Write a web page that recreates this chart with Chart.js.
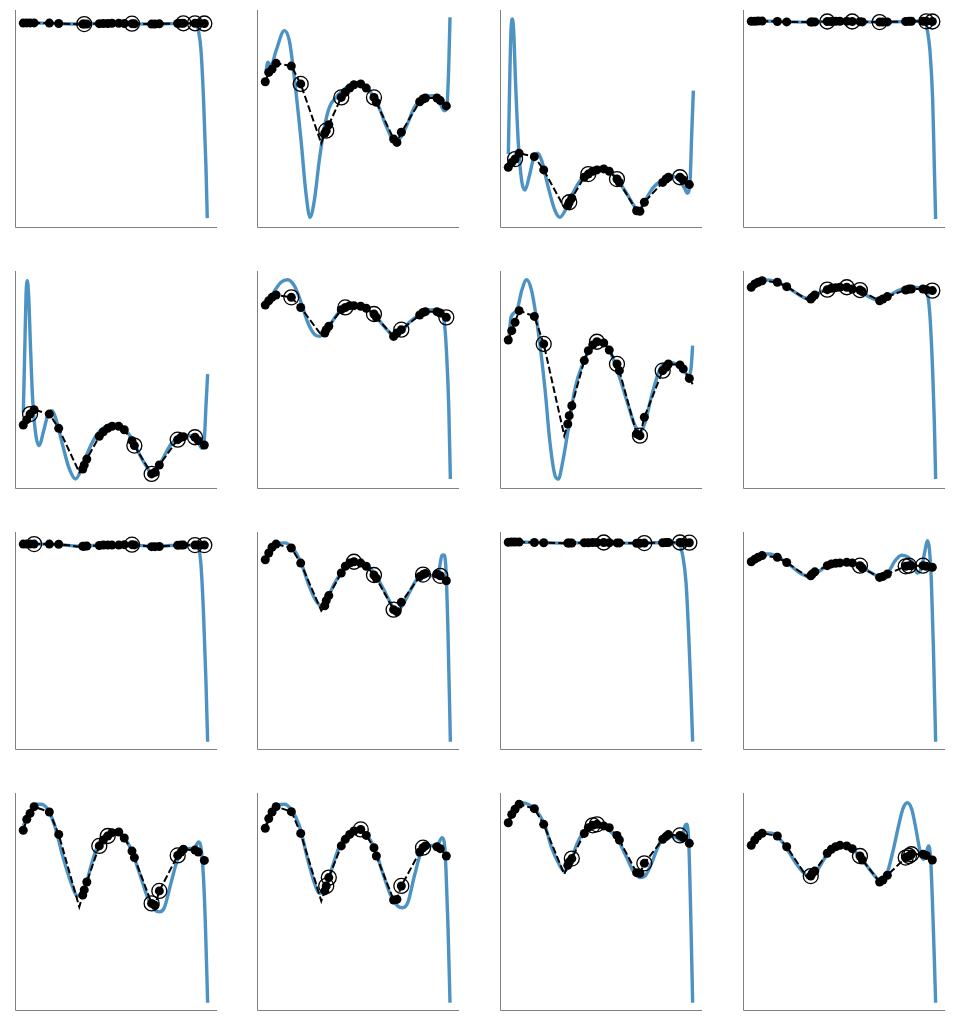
<!DOCTYPE html>
<html><head><meta charset="utf-8">
<script src="https://cdn.jsdelivr.net/npm/chart.js@4"></script>
<style>
html,body{margin:0;padding:0;background:#fff;}
#wrap{position:relative;width:954px;height:1025px;overflow:hidden;background:#fff;}
canvas{position:absolute;}
</style></head><body><div id="wrap"></div>
<script>
// common sample positions (x) of the black dots
const X = [0, 1.9, 3.7, 5.9, 14.2, 19.3, 32.4, 33.2, 34.6, 41.4, 43.6, 46.0, 48.3, 52.0, 55.0, 59.2, 60.5, 69.9, 71.7, 74.1, 84.1, 85.9, 87.2, 93.5, 95.3, 98.6];
const DIP_X = 30.5;   // extra vertex of the dashed line
const END_X = 100.4;

// ---- row 1 ----
const p11Dots = [98.4,98.5,98.5,98.5,98.4,98.2,97.9,97.9,97.9,98.1,98.2,98.2,98.3,98.3,98.2,98.1,98.0,97.9,97.9,98.0,98.2,98.3,98.3,98.3,98.3,98.2];
const p11Circled = [7,15,22,23,25];
const p11Dash = [97.8, null];
const p11CurveX = [0,10,20,30,40,50,60,70,80,88,93,94.5,95.5,96.8,98.2,99.5,100.2];
const p11CurveY = [98.5,98.4,98.1,97.9,98.2,98.3,98.1,97.9,98.1,98.3,98.2,97.5,94,84.5,59.3,25.6,0];

const p12Dots = [68.8,73.5,75.2,78.1,76.7,67.7,42.8,44.1,47.1,60.9,63.5,65.6,67.3,67.7,65.6,60.9,58.4,39.9,38.2,43.3,58.7,60.1,60.6,60.6,59.3,56.6];
const p12Circled = [5,7,9,15];
const p12Dash = [37.7, null];
const p12CurveX = [0.4,1.3,3.1,5.9,10.4,13.1,15.8,19.5,22.2,24.4,26.7,29.4,32.2,34.9,38.5,42.2,47.6,52.1,56.7,61.2,65.8,70.3,73.0,76.6,81.2,85.7,91.2,94.8,97.5,98.8,99.9,100.6];
const p12CurveY = [73.5,78.6,76.9,84.5,94.6,89.5,71.0,39.1,12.2,0.4,8.8,29.0,45.8,55.9,60.9,64.3,67.7,67.7,64.3,57.6,46.6,39.1,39.9,45.8,55.9,60.6,61.8,58.4,54.2,55.0,76.0,101.3];

const p13Dots = [25.6,28.1,29.8,32.7,31.0,24.3,6.3,8.0,10.1,20.6,22.2,23.6,24.3,24.8,23.6,19.7,18.0,3.7,3.4,8.0,18.0,19.7,20.6,20.6,19.2,16.9];
const p13Circled = [2,7,10,15,23];
const p13Dash = [5.4, null];
const p13CurveX = [0.04,0.95,1.5,2.2,2.94,4.0,5.5,7.3,9.1,11.3,13.7,16.0,18.2,21.8,25.5,28.2,30.9,34.5,39.1,44.5,50.0,54.5,59.0,63.6,68.1,70.8,74.5,79.0,83.5,89.0,93.5,96.2,97.5,99.0,99.9,100.8];
const p13CurveY = [32.3,76.1,94.6,100.5,94.6,67.7,37.4,18.9,14.1,20.6,29.8,32.7,29.0,15.5,3.7,0.4,3.7,11.3,18.9,24.3,25.6,24.3,19.7,13.8,6.8,3.7,8.8,15.5,18.9,21.1,18.9,14.7,12.5,18.9,42.5,64.3];

const p14Dots = [99.3,99.3,99.4,99.4,99.2,99.0,98.9,98.9,99.0,99.2,99.2,99.3,99.3,99.3,99.2,99.1,99.0,98.9,98.9,99.0,99.2,99.3,99.3,99.3,99.3,99.2];
const p14Circled = [9,14,17,24,25];
const p14Dash = [99.0, null];
const p14CurveX = [0,10,20,30,40,50,60,70,80,90,94.6,95.9,97.3,98.8,99.7,100.4];
const p14CurveY = [99.3,99.3,99.1,98.9,99.2,99.3,99.1,98.9,99.1,99.3,99.2,94.6,84.5,59.3,25.6,-0.5];

// ---- row 2 ----
const p21Dots = [27.3,30.0,32.8,35.0,32.8,25.6,5.1,7.1,10.1,21.6,23.9,25.6,26.6,26.6,24.9,19.4,16.9,2.6,3.4,7.1,19.9,21.1,21.4,21.1,19.4,17.2];
const p21Circled = [2,16,17,20,23];
const p21Dash = [3.4, null];
const p21CurveX = [0.04,0.95,1.5,2.2,2.94,3.85,5.1,6.9,8.75,10.9,13.3,15.7,17.8,21.5,25.1,28.4,31.4,35.1,39.6,44.1,49.6,54.1,58.7,63.2,66.8,69.6,72.3,75.9,80.5,85.0,90.4,94.9,97.3,98.6,99.5,100.4];
const p21CurveY = [33.7,70.7,92.6,100.1,92.6,69.0,40.4,21.9,16.9,23.6,32.0,34.5,30.3,16.9,5.1,0.05,4.3,13.5,21.9,26.1,27.8,26.1,21.1,12.7,6.8,3.4,4.3,10.1,17.7,21.1,21.9,19.4,15.5,20.1,37.0,53.0];

const p22Dots = [87.8,90.0,91.7,92.9,91.7,86.6,73.7,75.4,77.1,85.5,86.6,87.5,87.5,87.2,86.2,83.3,81.6,72.0,73.7,75.4,82.8,84.1,84.5,84.5,83.8,81.6];
const p22Circled = [4,10,15,19,25];
const p22Dash = [72.7, null];
const p22CurveX = [0.4,4.0,8.6,12.2,15.8,19.5,23.1,26.7,29.4,33.1,36.7,41.2,45.8,51.2,56.7,62.1,66.7,70.3,73.9,78.5,83.0,87.5,92.1,95.7,97.5,98.8,99.9,100.8];
const p22CurveY = [87.5,93.4,99.3,100.6,97.6,89.2,79.1,73.2,72.0,74.9,79.9,85.3,87.5,87.5,85.0,79.9,74.9,72.0,74.0,79.1,82.4,85.0,85.5,83.3,79.1,62.3,37.0,0.05];

const p23Dots = [70.2,74.9,79.1,85.0,82.1,68.2,27.8,32.0,37.0,59.8,64.8,67.7,69.3,68.7,65.1,58.1,54.7,22.8,21.9,31.2,54.7,56.4,58.1,57.6,55.6,50.8];
const p23Circled = [5,12,15,18,20];
const p23Dash = [21.9, 47.9];
const p23CurveX = [0.4,1.5,4.6,7.3,10.0,12.7,16.4,20.0,22.7,25.5,27.3,29.6,32.7,36.3,40.9,45.4,49.1,53.6,57.2,60.9,65.4,69.0,71.7,74.5,78.1,82.6,87.2,91.7,95.3,98.0,99.5,100.4];
const p23CurveY = [71.5,81.6,85.0,95.1,100.6,95.1,74.0,45.5,18.5,1.7,0.05,8.5,25.3,45.5,58.9,67.3,69.8,67.3,60.6,50.5,37.0,27.0,23.6,28.6,42.1,55.6,58.9,58.1,55.6,52.2,55.6,67.3];

const p24Dots = [96.8,98.5,99.3,100.1,99.3,97.1,90.9,91.7,92.9,95.6,96.3,96.6,96.8,96.8,95.9,95.4,94.6,90.0,90.9,92.1,95.4,95.9,95.9,95.9,95.6,95.1];
const p24Circled = [9,13,15,25];
const p24Dash = [90.5, null];
const p24CurveX = [0.2,5.7,13.8,21.1,28.4,32.0,37.4,44.7,52.0,59.2,64.7,70.1,75.6,81.9,88.3,93.7,95.9,97.3,98.8,99.7,100.4];
const p24CurveY = [97.6,100.6,99.6,95.9,91.7,90.9,94.2,96.8,96.8,95.1,91.7,90.0,92.9,95.9,96.8,95.9,93.4,82.4,53.9,28.6,0.05];

// ---- row 3 ----
const p31Dots = [98.9,98.9,98.9,98.9,98.9,98.8,97.8,97.8,97.9,98.2,98.4,98.4,98.4,98.4,98.6,98.6,98.5,97.6,97.6,97.7,98.3,98.4,98.4,98.4,98.4,98.4];
const p31Circled = [3,15,23,25];
const p31Dash = [97.6, null];
const p31CurveX = [0,10,20,30,40,50,60,70,80,90,95,96.8,98.2,99.5,100.4];
const p31CurveY = [98.9,98.9,98.6,97.8,98.3,98.5,98.5,97.7,98.2,98.4,98.1,88,62.8,29.2,-0.8];

const p32Dots = [91.0,94.4,97.3,98.9,96.9,89.3,67.8,70.4,72.9,84.3,87.7,89.3,90.0,89.3,87.7,83.3,81.6,65.8,64.8,69.5,82.5,83.5,84.1,83.8,82.9,80.4];
const p32Circled = [12,15,17,21,24];
const p32Dash = [65.3, null];
const p32CurveX = [0.4,3.1,6.8,10.4,14.9,19.5,24.0,27.6,30.4,34.0,37.6,42.2,46.7,51.2,55.8,60.3,64.8,68.5,71.2,73.9,77.6,82.1,86.6,91.2,94.4,96.2,97.2,98.4,99.5,100.8];
const p32CurveY = [90.2,95.3,99.1,99.5,96.9,89.4,77.6,70.4,67.8,72.0,78.8,85.5,89.4,90.0,88.0,83.0,75.4,68.7,65.3,67.0,72.9,80.5,83.3,82.9,85.0,93.1,93.4,86.3,54.4,-0.8];

const p33Dots = [99.8,99.9,99.9,99.9,99.7,99.6,99.4,99.4,99.4,99.6,99.6,99.7,99.7,99.7,99.6,99.5,99.5,99.3,99.3,99.4,99.6,99.7,99.7,99.7,99.7,99.6];
const p33Circled = [13,19,23,25];
const p33Dash = [99.3, null];
const p33CurveX = [0,10,20,30,40,50,60,70,80,88,92.6,95,96.8,98.2,99.3,100.4];
const p33CurveY = [99.8,99.8,99.6,99.4,99.6,99.6,99.5,99.3,99.6,99.7,99.2,93.1,79.6,54.4,29.1,-0.8];

const p34Dots = [90.0,91.3,92.2,93.1,92.2,89.6,82.9,83.8,84.9,88.0,88.9,89.2,89.4,89.7,89.4,88.0,86.8,82.1,82.6,83.8,87.7,88.0,88.0,88.0,87.7,87.2];
const p34Circled = [15,20,21,23];
const p34Dash = [82.5, null];
const p34CurveX = [0.2,5.7,10.2,14.7,21.1,26.5,32.0,36.5,42.0,47.4,52.9,58.3,63.7,68.3,71.0,74.6,78.3,81.9,85.5,88.6,90.4,92.8,94.6,95.9,97.0,98.1,99.2,100.4];
const p34CurveY = [90.5,93.9,93.9,92.2,88.3,84.3,82.4,84.9,88.3,89.6,89.6,88.3,85.4,82.9,82.1,84.6,90.5,93.3,92.2,88.0,84.3,87.2,95.6,100.6,96.4,79.6,45.9,-0.8];

// ---- row 4 ----
const p41Dots = [86.2,91.7,94.7,98.1,95.4,84.1,53.5,56.1,60.1,78.3,81.3,83.3,85.0,85.3,82.3,75.7,72.4,49.3,48.3,55.6,73.5,75.2,76.6,76.2,75.2,71.0];
const p41Circled = [9,11,17,19,20];
const p41Dash = [47.5, null];
const p41CurveX = [0.04,3.3,6.9,9.6,13.3,16.9,21.5,26.0,29.6,33.3,36.9,40.5,45.1,49.6,54.1,58.7,63.2,67.8,71.4,74.1,76.8,80.5,84.1,88.6,93.2,95.5,96.8,98.1,99.2,100.4];
const p41CurveY = [88.4,95.1,99.3,99.3,96.8,89.2,73.2,59.8,53.0,56.4,68.2,78.3,84.1,85.3,83.3,76.6,64.8,52.2,46.3,45.0,47.1,59.8,71.5,76.6,77.4,80.3,77.4,63.1,37.9,-0.8];

const p42Dots = [87.2,92.1,95.4,98.1,95.6,84.6,55.6,58.1,62.3,78.3,81.6,84.1,85.8,86.6,83.6,77.4,73.2,51.0,51.3,58.1,75.2,77.4,78.3,77.9,76.9,73.2];
const p42Circled = [7,8,13,19,21];
const p42Dash = [50.5, null];
const p42CurveX = [0.4,3.1,6.8,10.4,14.0,18.6,23.1,26.7,29.4,33.1,36.7,41.2,45.8,50.3,54.9,59.4,63.9,68.5,72.1,74.8,77.6,81.2,84.8,89.4,93.9,96.3,97.5,98.4,99.5,100.6];
const p42CurveY = [88.4,94.2,98.8,99.3,96.8,88.4,71.5,59.8,54.4,57.2,68.2,79.9,85.0,86.7,84.1,77.4,64.8,53.0,48.0,47.1,49.7,63.1,74.9,78.3,79.1,82.5,79.9,66.5,37.9,-0.8];

const p43Dots = [90.0,94.2,96.8,99.3,97.1,89.2,68.5,70.2,71.9,84.6,87.5,88.7,89.2,88.4,87.5,83.6,81.3,64.8,64.5,69.5,81.6,83.0,84.0,83.6,82.5,79.6];
const p43Circled = [8,11,12,19,23];
const p43Dash = [64.0, null];
const p43CurveX = [0.4,3.1,7.3,10.9,15.5,20.0,23.6,27.3,30.4,33.6,37.3,41.8,46.3,50.9,55.4,60.0,64.5,68.1,71.7,74.5,78.1,82.6,87.2,91.7,94.4,96.2,97.2,98.3,99.3,100.4];
const p43CurveY = [90.9,96.8,100.1,99.3,95.9,88.4,77.4,69.8,65.6,69.0,79.1,86.3,88.7,88.4,85.8,80.8,72.4,65.6,62.3,63.1,69.8,79.9,83.3,82.5,80.8,88.4,89.2,79.9,46.3,-0.8];

const p44Dots = [78.6,81.3,83.3,84.7,83.3,77.9,63.1,64.5,65.6,74.6,76.6,77.9,78.6,78.3,76.9,73.2,71.2,60.1,61.1,63.5,72.4,73.2,74.1,74.1,73.5,71.2];
const p44Circled = [6,15,20,21,22];
const p44Dash = [62.3, null];
const p44CurveX = [0.2,2.9,6.6,11.1,15.7,20.2,24.7,29.3,32.0,35.6,40.2,44.7,50.1,55.6,61.0,66.5,70.5,73.8,77.4,80.6,82.8,85.0,87.4,89.7,91.9,93.7,95.5,96.6,97.7,98.8,99.7,100.4];
const p44CurveY = [79.1,82.5,85.0,84.7,81.6,75.7,69.0,64.0,62.8,65.6,72.4,76.6,78.3,76.2,70.7,64.0,60.6,64.0,76.6,90.0,97.6,100.1,96.8,86.7,75.7,71.5,75.7,78.3,71.5,46.3,21.1,-0.8];

const panels = [
  [p11Dots,p11Circled,p11Dash,p11CurveX,p11CurveY],
  [p12Dots,p12Circled,p12Dash,p12CurveX,p12CurveY],
  [p13Dots,p13Circled,p13Dash,p13CurveX,p13CurveY],
  [p14Dots,p14Circled,p14Dash,p14CurveX,p14CurveY],
  [p21Dots,p21Circled,p21Dash,p21CurveX,p21CurveY],
  [p22Dots,p22Circled,p22Dash,p22CurveX,p22CurveY],
  [p23Dots,p23Circled,p23Dash,p23CurveX,p23CurveY],
  [p24Dots,p24Circled,p24Dash,p24CurveX,p24CurveY],
  [p31Dots,p31Circled,p31Dash,p31CurveX,p31CurveY],
  [p32Dots,p32Circled,p32Dash,p32CurveX,p32CurveY],
  [p33Dots,p33Circled,p33Dash,p33CurveX,p33CurveY],
  [p34Dots,p34Circled,p34Dash,p34CurveX,p34CurveY],
  [p41Dots,p41Circled,p41Dash,p41CurveX,p41CurveY],
  [p42Dots,p42Circled,p42Dash,p42CurveX,p42CurveY],
  [p43Dots,p43Circled,p43Dash,p43CurveX,p43CurveY],
  [p44Dots,p44Circled,p44Dash,p44CurveX,p44CurveY]
];

// layout (page pixels)
const COL_LEFT = [15, 257, 500, 743];
const ROW_BOTTOM = [227, 488, 749, 1010];
const AX_W = 202, AX_H = 218, PAD = 12;

const spines = {
  id: 'spines',
  afterDraw(chart) {
    const {ctx, chartArea: a} = chart;
    ctx.save();
    ctx.strokeStyle = '#808080';
    ctx.lineWidth = 1;
    ctx.beginPath();
    ctx.moveTo(a.left + 0.5, a.top);
    ctx.lineTo(a.left + 0.5, a.bottom - 0.5);
    ctx.lineTo(a.right, a.bottom - 0.5);
    ctx.stroke();
    ctx.restore();
  }
};

const wrap = document.getElementById('wrap');
panels.forEach((p, k) => {
  const [dotsY, circled, dashExtra, cx, cy] = p;
  const r = Math.floor(k / 4), c = k % 4;
  const cv = document.createElement('canvas');
  cv.width = AX_W + 2 * PAD; cv.height = AX_H + 2 * PAD;
  cv.style.left = (COL_LEFT[c] - PAD) + 'px';
  cv.style.top = (ROW_BOTTOM[r] + 1 - AX_H - PAD) + 'px';
  cv.style.width = cv.width + 'px'; cv.style.height = cv.height + 'px';
  wrap.appendChild(cv);

  const dots = X.map((x, i) => ({x, y: dotsY[i]}));
  const dash = dots.slice();
  if (dashExtra[0] !== null) dash.push({x: DIP_X, y: dashExtra[0]});
  if (dashExtra[1] !== null) dash.push({x: END_X, y: dashExtra[1]});
  dash.sort((a, b) => a.x - b.x);
  const circ = circled.map(i => dots[i]);
  const curve = cx.map((x, i) => ({x, y: cy[i]}));

  new Chart(cv, {
    type: 'line',
    data: {
      datasets: [
        {data: curve, borderColor: 'rgba(31,119,180,0.8)', borderWidth: 3.4, pointRadius: 0,
         tension: 0.4, cubicInterpolationMode: 'monotone', borderJoinStyle: 'round', order: 4, fill: false},
        {data: dash, borderColor: '#000', borderWidth: 2, borderDash: [7, 3], pointRadius: 0,
         tension: 0, order: 3, fill: false},
        {data: dots, showLine: false, pointRadius: 4.5, pointBackgroundColor: '#000', pointBorderWidth: 0,
         borderColor: '#000', order: 2},
        {data: circ, showLine: false, pointRadius: 7.5, pointBackgroundColor: 'rgba(0,0,0,0)',
         pointBorderColor: '#000', pointBorderWidth: 1.3, borderColor: '#000', order: 1}
      ]
    },
    options: {
      responsive: false, animation: false, events: [],
      layout: {padding: {left: PAD, right: PAD, top: PAD, bottom: PAD}},
      plugins: {legend: {display: false}, tooltip: {enabled: false}},
      scales: {
        x: {type: 'linear', display: false, min: -4.5, max: 105.5},
        y: {type: 'linear', display: false, min: -5, max: 105}
      }
    },
    plugins: [spines]
  });
});
</script></body></html>
